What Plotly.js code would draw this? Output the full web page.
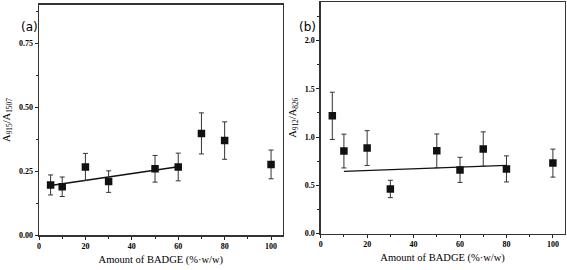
<!DOCTYPE html>
<html><head><meta charset="utf-8">
<script src="https://cdn.plot.ly/plotly-3.0.1.min.js"></script>
<style>html,body{margin:0;padding:0;background:#fff}#c{width:567px;height:270px}</style>
</head><body><div id="c"></div>
<script>
const xA = [5, 10, 20, 30, 50, 60, 70, 80, 100];
const yA = [0.197, 0.190, 0.267, 0.210, 0.260, 0.267, 0.398, 0.370, 0.277];
const errA = [0.039, 0.038, 0.053, 0.042, 0.052, 0.054, 0.080, 0.073, 0.056];
const fitAx = [5, 60];
const fitAy = [0.195, 0.268];

const xB = [5, 10, 20, 30, 50, 60, 70, 80, 100];
const yB = [1.22, 0.855, 0.886, 0.462, 0.857, 0.66, 0.876, 0.67, 0.73];
const errB = [0.245, 0.175, 0.18, 0.09, 0.175, 0.13, 0.178, 0.135, 0.145];
const fitBx = [10, 80];
const fitBy = [0.645, 0.707];

const tickValsX = [0, 20, 40, 60, 80, 100];
const tickValsYA = [0, 0.25, 0.5, 0.75];
const tickTextYA = ['0.00', '0.25', '0.50', '0.75'];
const tickValsYB = [0, 0.5, 1, 1.5, 2];
const tickTextYB = ['0.0', '0.5', '1.0', '1.5', '2.0'];

const SERIF = '"Liberation Serif", "Times New Roman", serif';
const marker = {symbol: 'square', size: 7.5, color: '#111'};
const err = (a) => ({type: 'data', array: a, visible: true, color: '#333', thickness: 1, width: 2.5});

const traces = [
  {x: fitAx, y: fitAy, mode: 'lines', line: {color: '#111', width: 1.6}, xaxis: 'x', yaxis: 'y', hoverinfo: 'skip'},
  {x: xA, y: yA, mode: 'markers', marker: marker, error_y: err(errA), xaxis: 'x', yaxis: 'y'},
  {x: fitBx, y: fitBy, mode: 'lines', line: {color: '#111', width: 1.3}, xaxis: 'x2', yaxis: 'y2', hoverinfo: 'skip'},
  {x: xB, y: yB, mode: 'markers', marker: marker, error_y: err(errB), xaxis: 'x2', yaxis: 'y2'}
];

const tickFont = {family: SERIF, size: 8, color: '#000', weight: 'bold'};
const titleFont = {family: SERIF, size: 10.5, color: '#000'};

const xax = (dom, anchor) => ({
  domain: dom, anchor: anchor, range: [0, 105], tickvals: tickValsX,
  ticks: 'outside', ticklen: 3, tickwidth: 1, tickcolor: '#222',
  minor: {tickvals: [10, 30, 50, 70, 90], ticks: 'outside', ticklen: 2, tickcolor: '#222', showgrid: false},
  showline: true, mirror: true, linecolor: '#333', linewidth: 1.3,
  showgrid: false, zeroline: false, tickfont: tickFont,
  title: {text: 'Amount of BADGE (%·w/w)', font: titleFont, standoff: 5}
});

const layout = {
  width: 567, height: 270, showlegend: false,
  font: {family: SERIF, color: '#000', size: 10},
  margin: {l: 0, r: 0, t: 0, b: 0},
  paper_bgcolor: '#fff', plot_bgcolor: '#fff',
  xaxis: xax([0.0688, 0.4985], 'y'),
  xaxis2: xax([0.5656, 0.9956], 'y2'),
  yaxis: {
    domain: [0.1278, 0.983], anchor: 'x', range: [0, 0.9],
    tickvals: tickValsYA, ticktext: tickTextYA,
    ticks: 'outside', ticklen: 3, tickwidth: 1, tickcolor: '#222',
    minor: {tickvals: [0.125, 0.375, 0.625, 0.875], ticks: 'outside', ticklen: 2, tickcolor: '#222', showgrid: false},
    showline: true, mirror: true, linecolor: '#333', linewidth: 1.3,
    showgrid: false, zeroline: false, tickfont: tickFont,
    title: {text: 'A<sub>915</sub>/A<sub>1507</sub>', font: titleFont, standoff: 6}
  },
  yaxis2: {
    domain: [0.135, 0.9926], anchor: 'x2', range: [0, 2.4],
    tickvals: tickValsYB, ticktext: tickTextYB,
    ticks: 'outside', ticklen: 3, tickwidth: 1, tickcolor: '#222',
    minor: {tickvals: [0.25, 0.75, 1.25, 1.75, 2.25], ticks: 'outside', ticklen: 2, tickcolor: '#222', showgrid: false},
    showline: true, mirror: true, linecolor: '#333', linewidth: 1.3,
    showgrid: false, zeroline: false, tickfont: tickFont,
    title: {text: 'A<sub>912</sub>/A<sub>826</sub>', font: titleFont, standoff: 6}
  },
  annotations: [
    {text: '(a)', x: 19 / 567, y: 1 - 18 / 270, xref: 'paper', yref: 'paper', showarrow: false,
     font: {family: '"DejaVu Sans", sans-serif', size: 12, color: '#000'}},
    {text: '(b)', x: 307 / 567, y: 1 - 18 / 270, xref: 'paper', yref: 'paper', showarrow: false,
     font: {family: '"DejaVu Sans", sans-serif', size: 12, color: '#000'}}
  ]
};

Plotly.newPlot('c', traces, layout, {staticPlot: true, displayModeBar: false});
</script></body></html>
